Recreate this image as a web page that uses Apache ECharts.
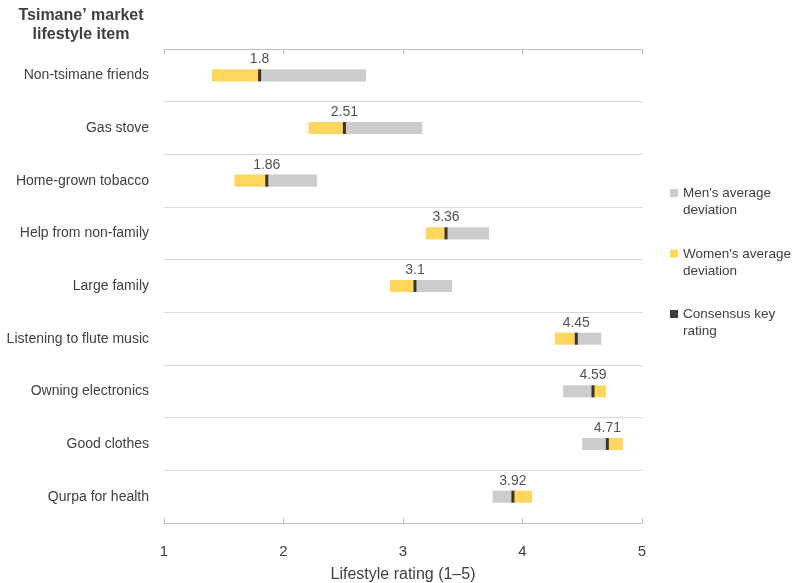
<!DOCTYPE html>
<html>
<head>
<meta charset="utf-8">
<script src="https://cdn.jsdelivr.net/npm/echarts@6/dist/echarts.min.js"></script>
<style>
html,body{margin:0;padding:0;background:#fff;}
#chart{width:800px;height:583px;}
</style>
</head>
<body>
<div id="chart"></div>
<script>
var categories = ["Non-tsimane friends","Gas stove","Home-grown tobacco","Help from non-family","Large family","Listening to flute music","Owning electronics","Good clothes","Qurpa for health"];
var consensus = [1.8, 2.51, 1.86, 3.36, 3.1, 4.45, 4.59, 4.71, 3.92];
// signed deviations (direction from consensus)
var menDeviation = [0.89, 0.65, 0.42, 0.36, 0.31, 0.21, -0.25, -0.21, -0.17];
var womenDeviation = [-0.40, -0.30, -0.27, -0.17, -0.21, -0.18, 0.11, 0.13, 0.16];
var xTicks = [1, 2, 3, 4, 5];

var FONT = '"Liberation Sans", Arial, sans-serif';
var chart = echarts.init(document.getElementById('chart'));

function rangeData(dev) {
  return categories.map(function (c, i) { return [consensus[i], consensus[i] + dev[i], i]; });
}
function renderRange(params, api) {
  var y = api.value(2);
  var a = api.coord([api.value(0), y]);
  var b = api.coord([api.value(1), y]);
  var h = api.size([0, 1])[1] * 0.23;
  return {
    type: 'rect',
    shape: { x: Math.min(a[0], b[0]), y: a[1] - h / 2, width: Math.abs(b[0] - a[0]), height: h },
    style: api.style()
  };
}

chart.setOption({
  backgroundColor: '#ffffff',
  animation: false,
  textStyle: { fontFamily: FONT },
  title: {
    text: "Tsimane\u2019 market\nlifestyle item",
    left: 76, top: 1, textAlign: 'center',
    textStyle: { fontFamily: FONT, fontSize: 16, fontWeight: 'bold', color: '#404040', lineHeight: 19 }
  },
  legend: {
    orient: 'vertical', left: 670, top: 185, padding: 0,
    icon: 'path://M0,0L8,0L8,8L0,8Z M0,26L8,26', itemWidth: 8, itemHeight: 26, itemGap: 26.5, itemTextGap: 3,
    data: ["Men's average deviation", "Women's average deviation", "Consensus key rating"],
    formatter: function (n) {
      return { "Men's average deviation": "Men's average\ndeviation",
               "Women's average deviation": "Women's average\ndeviation",
               "Consensus key rating": "Consensus key\nrating" }[n];
    },
    textStyle: { fontFamily: FONT, fontSize: 13.5, color: '#404040', lineHeight: 17 },
    itemStyle: { borderWidth: 0 }
  },
  grid: { left: 164, right: 158, top: 49, bottom: 60, containLabel: false, outerBoundsMode: 'none' },
  xAxis: [{
    type: 'value', min: xTicks[0], max: xTicks[xTicks.length - 1], interval: 1, position: 'bottom',
    name: 'Lifestyle rating (1\u20135)', nameLocation: 'middle', nameGap: 44,
    nameTextStyle: { fontFamily: FONT, fontSize: 16, color: '#404040' },
    axisLine: { show: true, lineStyle: { color: '#bfbfbf' } },
    axisTick: { show: true, inside: true, length: 5, lineStyle: { color: '#bfbfbf' } },
    axisLabel: { fontFamily: FONT, fontSize: 15, color: '#404040', margin: 21 },
    splitLine: { show: false }
  }, {
    type: 'value', min: xTicks[0], max: xTicks[xTicks.length - 1], interval: 1, position: 'top',
    axisLine: { show: true, lineStyle: { color: '#bfbfbf' } },
    axisTick: { show: true, inside: true, length: 5, lineStyle: { color: '#bfbfbf' } },
    axisLabel: { show: false },
    splitLine: { show: false }
  }],
  yAxis: {
    type: 'category', data: categories, inverse: true,
    axisLine: { show: false }, axisTick: { show: false },
    axisLabel: { fontFamily: FONT, fontSize: 14, color: '#404040', margin: 15 },
    splitLine: { show: true, lineStyle: { color: '#d9d9d9' } }
  },
  series: [{
    name: "Men's average deviation", type: 'custom', renderItem: renderRange,
    data: rangeData(menDeviation), encode: { x: [0, 1], y: 2 },
    itemStyle: { color: '#cccccc' }, z: 2
  }, {
    name: "Women's average deviation", type: 'custom', renderItem: renderRange,
    data: rangeData(womenDeviation), encode: { x: [0, 1], y: 2 },
    itemStyle: { color: '#ffd75e' }, z: 2
  }, {
    name: "Consensus key rating", type: 'scatter',
    data: categories.map(function (c, i) { return [consensus[i], i]; }),
    symbol: 'rect', symbolSize: [3, 12],
    itemStyle: { color: '#0d0d0d' }, z: 5,
    label: {
      show: true, position: 'top', distance: 3,
      fontFamily: FONT, fontSize: 14, color: '#262626',
      formatter: function (p) { return String(consensus[p.dataIndex]); }
    }
  }]
});
</script>
</body>
</html>
